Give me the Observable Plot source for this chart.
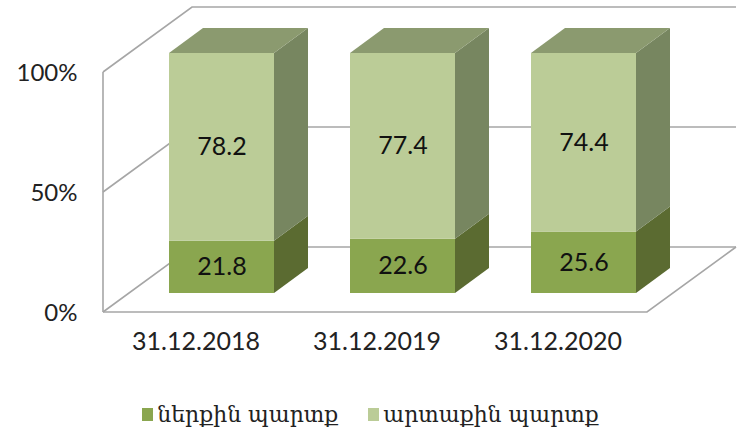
<!DOCTYPE html>
<html>
<head>
<meta charset="utf-8">
<script src="https://cdn.jsdelivr.net/npm/d3@7"></script>
<script src="https://cdn.jsdelivr.net/npm/@observablehq/plot@0.6"></script>
<style>
  body { margin: 0; background: #ffffff; }
  #chart { width: 741px; height: 434px; overflow: hidden; }
  .legend { display: flex; justify-content: center; align-items: center; height: 40px; margin-top: 24px; gap: 30px;
            font-family: "DejaVu Serif", "DejaVu Sans", serif; font-size: 22px; color: #222; padding-left: 0px; }
  .legend .item { display: flex; align-items: center; gap: 4px; }
  .legend .sw { width: 11px; height: 13px; display: inline-block; }
</style>
</head>
<body>
<div id="chart"></div>
<script>
// ---- data ----
const categories = ["31.12.2018", "31.12.2019", "31.12.2020"];
const seriesNames = ["ներքին պարտք", "արտաքին պարտք"];
const internalDebt = [21.8, 22.6, 25.6];
const externalDebt = [78.2, 77.4, 74.4];
const yTicks = [0, 50, 100];

// ---- styles ----
const frontColors = ["#8aa64f", "#bbcc97"];
const sideColors = ["#5b6b31", "#778660"];
const topColor = "#8b9a6f";
const gridColor = "#a6a6a6";
const depth = {dx: 34, dy: -25};      // bar depth
const wallFront = {dx: -26, dy: 19};  // front edge of walls relative to bar plane
const wallBack = {dx: 63, dy: -46};   // back wall relative to bar plane

const rows = categories.flatMap((c, i) => [
  {date: c, series: seriesNames[0], value: internalDebt[i]},
  {date: c, series: seriesNames[1], value: externalDebt[i]}
]);

const ns = "http://www.w3.org/2000/svg";
function el(tag, attrs) {
  const e = document.createElementNS(ns, tag);
  for (const k in attrs) e.setAttribute(k, attrs[k]);
  return e;
}
function bandwidthOf(scales) {
  const sx = scales.x;
  let bw = typeof sx.bandwidth === "function" ? sx.bandwidth() : sx.bandwidth;
  if (bw == null && scales.scales && scales.scales.x) bw = scales.scales.x.bandwidth;
  return bw;
}

// walls, floor and gridlines
function walls(index, scales, values, dims) {
  const g = el("g", {fill: "none", stroke: gridColor, "stroke-width": 1.6});
  const sy = scales.y;
  const L = dims.marginLeft + 37;
  const R = dims.width - dims.marginRight - 39.5;
  g.appendChild(el("line", {x1: L + wallFront.dx, y1: sy(0) + wallFront.dy, x2: L + wallFront.dx, y2: sy(100) + wallFront.dy}));
  for (const v of yTicks) {
    g.appendChild(el("polyline", {points: [
      [L + wallFront.dx, sy(v) + wallFront.dy],
      [L + wallBack.dx, sy(v) + wallBack.dy],
      [R + wallBack.dx, sy(v) + wallBack.dy]
    ].map(p => p.join(",")).join(" ")}));
  }
  g.appendChild(el("polyline", {points: [
    [L + wallFront.dx, sy(0) + wallFront.dy],
    [R + wallFront.dx, sy(0) + wallFront.dy],
    [R + wallBack.dx, sy(0) + wallBack.dy]
  ].map(p => p.join(",")).join(" ")}));
  return g;
}

// side and top faces of the 3D bars
function faces(index, scales, values, dims) {
  const g = el("g", {});
  const sx = scales.x, sy = scales.y;
  const bw = bandwidthOf(scales);
  categories.forEach((c, i) => {
    const x0 = sx(c), x1 = x0 + bw;
    const segs = [internalDebt[i], externalDebt[i]];
    let acc = 0;
    segs.forEach((v, j) => {
      const a = acc, b = acc + v;
      acc = b;
      g.appendChild(el("polygon", {fill: sideColors[j], points: [
        [x1, sy(a)], [x1 + depth.dx, sy(a) + depth.dy], [x1 + depth.dx, sy(b) + depth.dy], [x1, sy(b)]
      ].map(p => p.join(",")).join(" ")}));
    });
    g.appendChild(el("polygon", {fill: topColor, points: [
      [x0, sy(acc)], [x0 + depth.dx, sy(acc) + depth.dy], [x1 + depth.dx, sy(acc) + depth.dy], [x1, sy(acc)]
    ].map(p => p.join(",")).join(" ")}));
  });
  return g;
}

const plot = Plot.plot({
  width: 741,
  height: 370,
  marginTop: 53,
  marginBottom: 77,
  marginLeft: 92,
  marginRight: 28.5,
  style: {fontFamily: "Lato, 'Open Sans', sans-serif", background: "#ffffff", color: "#222"},
  x: {domain: categories, padding: 0.42, axis: null},
  y: {domain: [0, 100], axis: null},
  color: {domain: seriesNames, range: frontColors},
  marks: [
    walls,
    faces,
    Plot.barY(rows, {x: "date", y: "value", fill: "series"}),
    Plot.text(rows, Plot.stackY({x: "date", y: "value", text: d => d.value.toFixed(1), fontSize: 25, fill: "#111"})),
    Plot.text(yTicks, {y: d => d, text: d => d + "%", frameAnchor: "left", textAnchor: "end", dx: -15, dy: 20, fontSize: 24, fill: "#222"}),
    Plot.text(categories, {x: d => d, text: d => d, frameAnchor: "bottom", dx: -26, dy: 56, fontSize: 25, fill: "#222"})
  ]
});

const chart = document.getElementById("chart");
chart.appendChild(plot);
const legend = document.createElement("div");
legend.className = "legend";
seriesNames.forEach((s, i) => {
  const item = document.createElement("div");
  item.className = "item";
  const sw = document.createElement("span");
  sw.className = "sw";
  sw.style.background = frontColors[i];
  const t = document.createElement("span");
  t.textContent = s;
  item.appendChild(sw);
  item.appendChild(t);
  legend.appendChild(item);
});
chart.appendChild(legend);
</script>
</body>
</html>
